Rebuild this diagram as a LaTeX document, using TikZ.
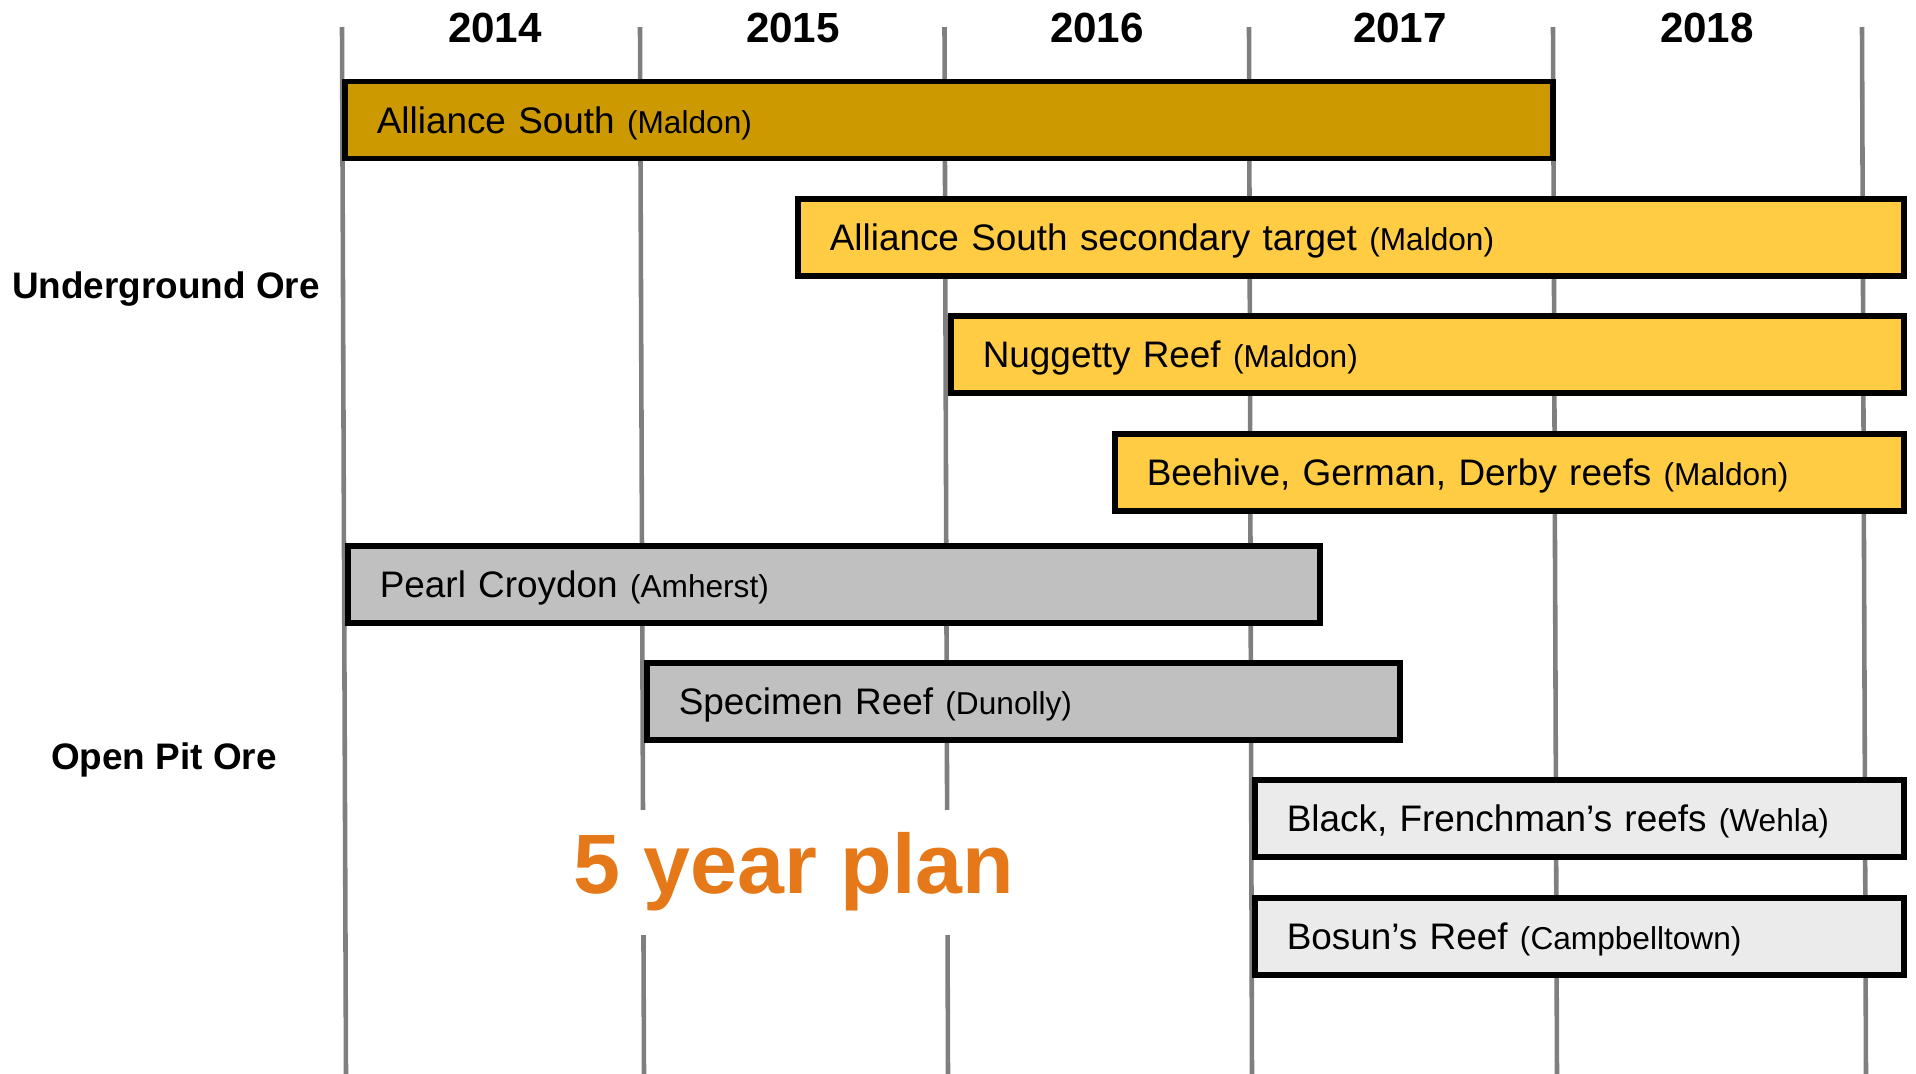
\documentclass[tikz,border=0pt]{standalone}
\usepackage{fontspec}
\setmainfont{Liberation Sans}

\definecolor{golddark}{HTML}{CC9900}
\definecolor{goldlight}{HTML}{FFCC44}
\definecolor{pitgray}{HTML}{C0C0C0}
\definecolor{pitlight}{HTML}{EBEBEB}
\definecolor{gridgray}{HTML}{7F7F7F}
\definecolor{planorange}{HTML}{E5791A}

\newcommand{\site}[1]{{\fontsize{9}{11}\selectfont(#1)}}

\begin{document}
\begin{tikzpicture}[
  x=1mm,y=-1mm,
  every node/.style={font=\fontsize{10.5}{12}\selectfont},
  bar/.style={draw,line width=1.6pt,anchor=west,minimum height=7.7mm,inner xsep=3.2mm,inner ysep=0pt,text depth=0pt,align=left},
  year/.style={font=\bfseries\fontsize{12}{14}\selectfont},
  group/.style={font=\bfseries\fontsize{10.5}{12}\selectfont},
  gridline/.style={gridgray,line width=1.3pt}
]
  \useasboundingbox (0,0) rectangle (191.6,107.4);
  % year grid
  \foreach \xt/\xb [count=\i] in {34.2/34.6,64.0/64.4,94.45/94.8,124.9/125.2,155.3/155.7,186.2/186.6}{
    \coordinate (top\i) at (\xt,2.7);
    \coordinate (bot\i) at (\xb,107.4);
    \draw[gridline] (top\i) -- (bot\i);
  }
  \foreach \yr/\xc in {2014/49.5,2015/79.3,2016/109.7,2017/140.0,2018/170.7}
    \node[year] (year\yr) at (\xc,2.8) {\yr};

  \node[group] (underground) at (16.6,28.9) {Underground Ore};
  \node[group] (openpit) at (16.4,76.0) {Open Pit Ore};

  % underground
  \node[bar,fill=golddark,text width=114.4mm] (alliance) at (34.2,12.0) {Alliance South \site{Maldon}};
  \node[bar,fill=goldlight,text width=104.2mm] (secondary) at (79.5,23.75) {Alliance South secondary target \site{Maldon}};
  \node[bar,fill=goldlight,text width=88.9mm] (nuggetty) at (94.8,35.45) {Nuggetty Reef \site{Maldon}};
  \node[bar,fill=goldlight,text width=72.5mm] (beehive) at (111.2,47.25) {Beehive, German, Derby reefs \site{Maldon}};
  % open pit
  \node[bar,fill=pitgray,text width=90.8mm] (pearl) at (34.5,58.45) {Pearl Croydon \site{Amherst}};
  \node[bar,fill=pitgray,text width=68.9mm] (specimen) at (64.4,70.15) {Specimen Reef \site{Dunolly}};
  \node[bar,fill=pitlight,text width=58.5mm] (black) at (125.2,81.85) {Black, Frenchman’s reefs \site{Wehla}};
  \node[bar,fill=pitlight,text width=58.5mm] (bosun) at (125.2,93.65) {Bosun’s Reef \site{Campbelltown}};

  \node[font=\bfseries\fontsize{24}{28}\selectfont,text=planorange,fill=white,minimum height=12.5mm,inner xsep=1mm] (plan) at (79.4,87.2) {5 year plan};
\end{tikzpicture}
\end{document}
